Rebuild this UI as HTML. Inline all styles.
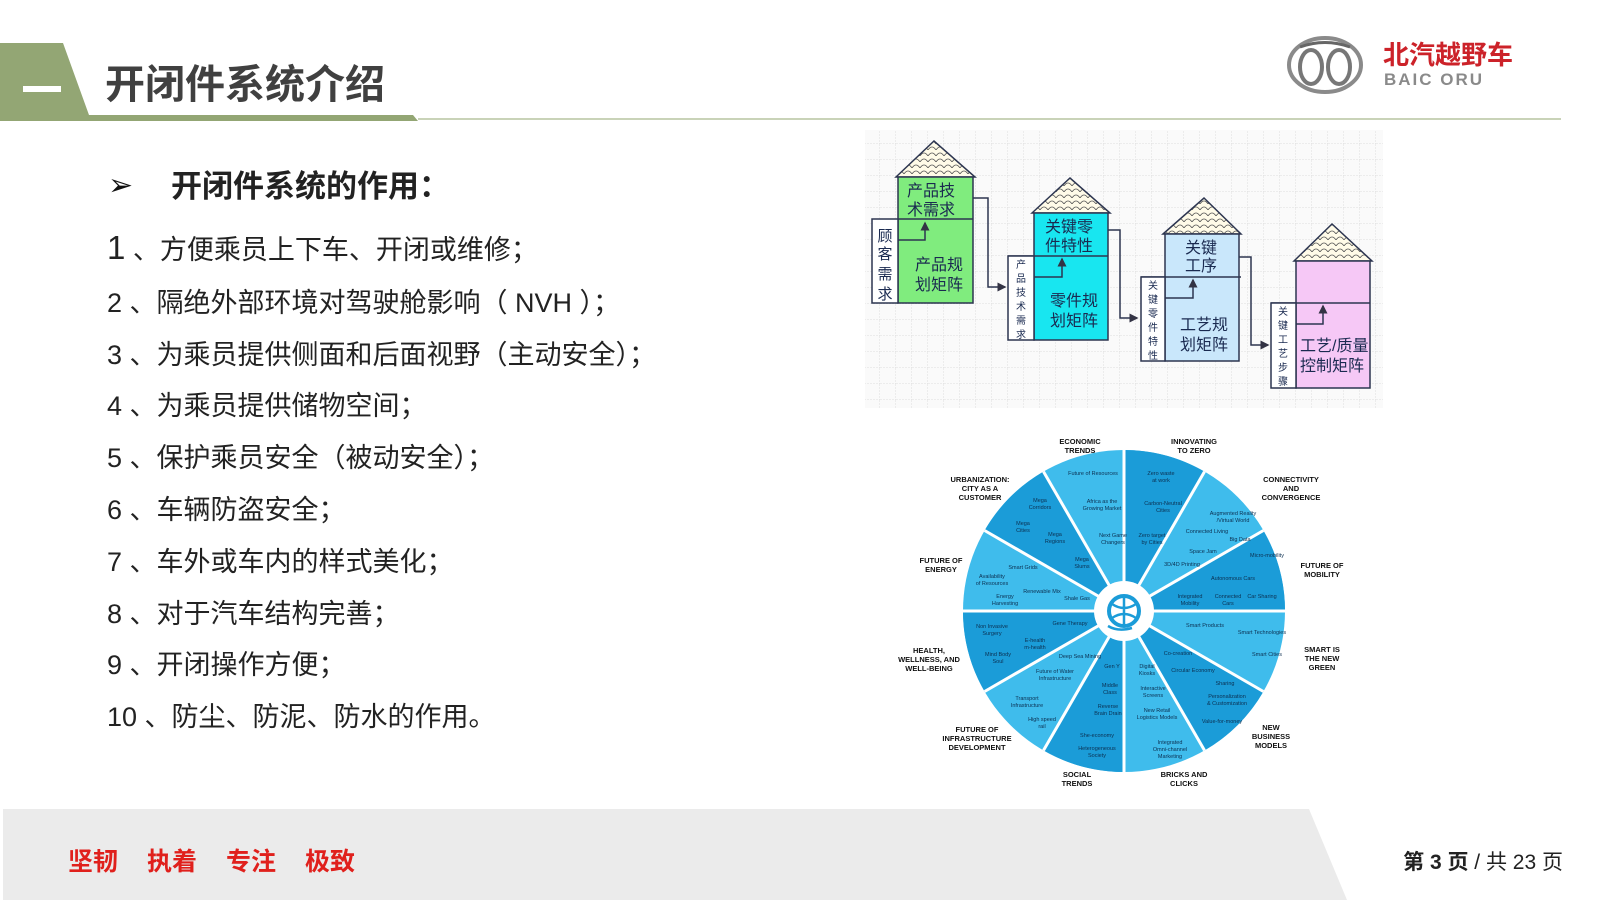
<!DOCTYPE html>
<html><head><meta charset="utf-8">
<style>
html,body{margin:0;padding:0;}
body{width:1600px;height:900px;position:relative;overflow:hidden;background:#fff;font-family:"Liberation Sans","Noto Sans CJK SC",sans-serif;}
.abs{position:absolute;white-space:nowrap;}
.li{position:absolute;left:107px;font-size:27px;color:#222;line-height:30px;font-family:"Liberation Sans","Noto Sans CJK SC",sans-serif;}
.fw{display:inline-block;margin-right:29px;}
</style></head><body>
<svg class="abs" style="left:0;top:0" width="1600" height="900">
  <polygon points="0,43 63,43 89,115 413,115 418,121 0,121" fill="#93a674"/>
  <rect x="418" y="118" width="1143" height="2" fill="#c9d3b8"/>
  <rect x="23" y="86" width="38" height="6" fill="#fff"/>
  <ellipse cx="1325" cy="65" rx="36" ry="27" fill="none" stroke="#8a8a8a" stroke-width="4"/>
  <ellipse cx="1311" cy="67" rx="11" ry="17" fill="none" stroke="#777" stroke-width="4"/>
  <ellipse cx="1339" cy="67" rx="11" ry="17" fill="none" stroke="#777" stroke-width="4"/>
  <path d="M1300,47 Q1325,38 1350,47" fill="none" stroke="#666" stroke-width="3"/>
  <rect x="3" y="809" width="1597" height="91" fill="#ebebeb"/>
  <polygon points="1309,809 1600,809 1600,900 1347,900" fill="#fff"/>
</svg>
<div class="abs" style="left:105px;top:60px;font-size:40px;font-weight:bold;color:#404040;line-height:50px;">开闭件系统介绍</div>
<div class="abs" style="left:1383px;top:40px;font-size:26px;font-weight:bold;color:#cc2229;line-height:30px;">北汽越野车</div>
<div class="abs" style="left:1384px;top:70px;font-size:17px;font-weight:bold;color:#8a8a8a;line-height:20px;letter-spacing:2px;">BAIC ORU</div>

<div class="abs" style="left:108px;top:168px;font-size:30px;color:#111;">➢</div>
<div class="abs" style="left:171px;top:168px;font-size:31px;font-weight:bold;color:#222;line-height:38px;">开闭件系统的作用：</div>
<div class="li" style="top:233px;"><span style="font-size:33px">1</span> 、方便乘员上下车、开闭或维修；</div>
<div class="li" style="top:288px;">2 、隔绝外部环境对驾驶舱影响（ NVH ）；</div>
<div class="li" style="top:340px;">3 、为乘员提供侧面和后面视野（主动安全）；</div>
<div class="li" style="top:391px;">4 、为乘员提供储物空间；</div>
<div class="li" style="top:443px;">5 、保护乘员安全（被动安全）；</div>
<div class="li" style="top:495px;">6 、车辆防盗安全；</div>
<div class="li" style="top:547px;">7 、车外或车内的样式美化；</div>
<div class="li" style="top:599px;">8 、对于汽车结构完善；</div>
<div class="li" style="top:650px;">9 、开闭操作方便；</div>
<div class="li" style="top:702px;">10 、防尘、防泥、防水的作用。</div>

<div class="abs" style="left:68px;top:846px;font-size:25px;font-weight:bold;color:#e0201c;line-height:32px;"><span class="fw">坚韧</span><span class="fw">执着</span><span class="fw">专注</span><span>极致</span></div>
<div class="abs" style="right:37px;top:849px;font-size:21px;color:#222;line-height:28px;"><b>第 3 页</b> / 共 23 页</div>

<svg class="abs" style="left:0;top:0" width="1600" height="900" font-family="Liberation Sans,Noto Sans CJK SC,sans-serif">
  <defs>
    <pattern id="g" width="16" height="16" patternUnits="userSpaceOnUse">
      <path d="M16,0 V16 M0,16 H16" stroke="#dedede" stroke-width="1" stroke-dasharray="2,1" fill="none"/>
    </pattern>
    <pattern id="sc" width="8" height="6" patternUnits="userSpaceOnUse">
      <rect width="8" height="6" fill="#fffbe8"/>
      <path d="M0,6 Q4,0 8,6" fill="none" stroke="#555" stroke-width="0.8"/>
    </pattern>
    <marker id="ah" markerWidth="6" markerHeight="6" refX="5" refY="3" orient="auto"><path d="M0,0 L6,3 L0,6z" fill="#334"/></marker>
  </defs>
  <rect x="865" y="130" width="518" height="278" fill="#fafafa"/>
  <rect x="865" y="130" width="518" height="278" fill="url(#g)"/>
  <g stroke="#2c3550" stroke-width="1.5">
    <polygon points="896,177 934,141 975,177" fill="url(#sc)"/>
    <rect x="898" y="177" width="75" height="126" fill="#80ec7e"/>
    <line x1="898" y1="219" x2="973" y2="219"/>
    <rect x="872" y="219" width="26" height="84" fill="#fff"/>
    <polyline points="898,240 925,240 925,223" fill="none" marker-end="url(#ah)"/>
    <polyline points="973,198 988,198 988,287 1005,287" fill="none" marker-end="url(#ah)"/>
    <polygon points="1032,213 1070,178 1110,213" fill="url(#sc)"/>
    <rect x="1034" y="213" width="74" height="127" fill="#18e6f0"/>
    <line x1="1008" y1="256" x2="1108" y2="256"/>
    <rect x="1008" y="256" width="26" height="84" fill="#fff"/>
    <polyline points="1034,277 1062,277 1062,259" fill="none" marker-end="url(#ah)"/>
    <polyline points="1108,230 1120,230 1120,318 1137,318" fill="none" marker-end="url(#ah)"/>
    <polygon points="1163,234 1204,198 1241,234" fill="url(#sc)"/>
    <rect x="1165" y="234" width="74" height="127" fill="#c9e7fb"/>
    <line x1="1141" y1="277" x2="1241" y2="277"/>
    <rect x="1141" y="277" width="24" height="84" fill="#fff"/>
    <polyline points="1165,298 1193,298 1193,280" fill="none" marker-end="url(#ah)"/>
    <polyline points="1239,257 1251,257 1251,345 1268,345" fill="none" marker-end="url(#ah)"/>
    <polygon points="1294,261 1332,224 1372,261" fill="url(#sc)"/>
    <rect x="1296" y="261" width="74" height="127" fill="#f6c8f6"/>
    <line x1="1271" y1="303" x2="1370" y2="303"/>
    <rect x="1271" y="303" width="25" height="85" fill="#fff"/>
    <polyline points="1296,324 1323,324 1323,306" fill="none" marker-end="url(#ah)"/>
  </g>
  <g font-size="16" fill="#1a2a50">
    <text x="907" y="196">产品技</text><text x="907" y="215">术需求</text>
    <text x="915" y="270">产品规</text><text x="915" y="290">划矩阵</text>
    <text x="1045" y="232">关键零</text><text x="1045" y="251">件特性</text>
    <text x="1050" y="306">零件规</text><text x="1050" y="326">划矩阵</text>
    <text x="1185" y="253">关键</text><text x="1185" y="271">工序</text>
    <text x="1180" y="330">工艺规</text><text x="1180" y="350">划矩阵</text>
    <text x="1300" y="351">工艺/质量</text><text x="1300" y="371">控制矩阵</text>
  </g>
  <g font-size="15" fill="#1a2a50" text-anchor="middle">
    <text x="885" y="241">顾</text><text x="885" y="259">客</text><text x="885" y="279">需</text><text x="885" y="299">求</text>
  </g>
  <g font-size="10" fill="#1a2a50" text-anchor="middle">
    <text x="1021" y="268">产</text><text x="1021" y="282">品</text><text x="1021" y="296">技</text><text x="1021" y="310">术</text><text x="1021" y="324">需</text><text x="1021" y="338">求</text>
    <text x="1153" y="289">关</text><text x="1153" y="303">键</text><text x="1153" y="317">零</text><text x="1153" y="331">件</text><text x="1153" y="345">特</text><text x="1153" y="359">性</text>
    <text x="1283" y="315">关</text><text x="1283" y="329">键</text><text x="1283" y="343">工</text><text x="1283" y="357">艺</text><text x="1283" y="371">步</text><text x="1283" y="385">骤</text>
  </g>
</svg>

<svg class="abs" style="left:0;top:0" width="1600" height="900" font-family="Liberation Sans,DejaVu Sans,sans-serif">
  <circle cx="1124" cy="611" r="161" fill="#3fbcec"/>
  <g fill="#1b9cd8">
    <path d="M1124,611 L1124,450 A161,161 0 0 1 1204.5,471.6Z"/>
    <path d="M1124,611 L1263.4,530.5 A161,161 0 0 1 1285,611Z"/>
    <path d="M1124,611 L1263.4,691.5 A161,161 0 0 1 1204.5,750.4Z"/>
    <path d="M1124,611 L1124,772 A161,161 0 0 1 1043.5,750.4Z"/>
    <path d="M1124,611 L984.6,691.5 A161,161 0 0 1 963,611Z"/>
    <path d="M1124,611 L984.6,530.5 A161,161 0 0 1 1043.5,471.6Z"/>
  </g>
  <g stroke="#fff" stroke-width="3">
    <line x1="1124" y1="611" x2="1124" y2="450"/><line x1="1124" y1="611" x2="1204.5" y2="471.6"/>
    <line x1="1124" y1="611" x2="1263.4" y2="530.5"/><line x1="1124" y1="611" x2="1285" y2="611"/>
    <line x1="1124" y1="611" x2="1263.4" y2="691.5"/><line x1="1124" y1="611" x2="1204.5" y2="750.4"/>
    <line x1="1124" y1="611" x2="1124" y2="772"/><line x1="1124" y1="611" x2="1043.5" y2="750.4"/>
    <line x1="1124" y1="611" x2="984.6" y2="691.5"/><line x1="1124" y1="611" x2="963" y2="611"/>
    <line x1="1124" y1="611" x2="984.6" y2="530.5"/><line x1="1124" y1="611" x2="1043.5" y2="471.6"/>
  </g>
  <circle cx="1124" cy="611" r="30" fill="#fff"/>
  <circle cx="1124" cy="611" r="15" fill="none" stroke="#1b9cd8" stroke-width="4"/>
  <path d="M1112,604 Q1124,612 1136,604 M1112,618 Q1124,610 1136,618 M1124,596 V626 M1108,626 Q1118,632 1132,628" fill="none" stroke="#1b9cd8" stroke-width="2.5"/>
  <g font-size="5.5" fill="#0c2f50" text-anchor="middle">
    <text x="1093" y="475">Future of Resources</text><text x="1102" y="503">Africa as the</text><text x="1102" y="510">Growing Market</text><text x="1113" y="537">Next Game</text><text x="1113" y="544">Changers</text>
    <text x="1161" y="475">Zero waste</text><text x="1161" y="482">at work</text><text x="1163" y="505">Carbon-Neutral</text><text x="1163" y="512">Cities</text><text x="1152" y="537">Zero target</text><text x="1152" y="544">by Cities</text>
    <text x="1233" y="515">Augmented Reality</text><text x="1233" y="522">/Virtual World</text><text x="1207" y="533">Connected Living</text><text x="1240" y="541">Big Data</text><text x="1203" y="553">Space Jam</text><text x="1182" y="566">3D/4D Printing</text>
    <text x="1267" y="557">Micro-mobility</text><text x="1233" y="580">Autonomous Cars</text><text x="1190" y="598">Integrated</text><text x="1190" y="605">Mobility</text><text x="1228" y="598">Connected</text><text x="1228" y="605">Cars</text><text x="1262" y="598">Car Sharing</text>
    <text x="1205" y="627">Smart Products</text><text x="1262" y="634">Smart Technologies</text><text x="1267" y="656">Smart Cities</text>
    <text x="1178" y="655">Co-creation</text><text x="1193" y="672">Circular Economy</text><text x="1225" y="685">Sharing</text><text x="1227" y="698">Personalization</text><text x="1227" y="705">&amp; Customization</text><text x="1222" y="723">Value-for-money</text>
    <text x="1147" y="668">Digital</text><text x="1147" y="675">Kiosks</text><text x="1153" y="690">Interactive</text><text x="1153" y="697">Screens</text><text x="1157" y="712">New Retail</text><text x="1157" y="719">Logistics Models</text><text x="1170" y="744">Integrated</text><text x="1170" y="751">Omni-channel</text><text x="1170" y="758">Marketing</text>
    <text x="1112" y="668">Gen Y</text><text x="1110" y="687">Middle</text><text x="1110" y="694">Class</text><text x="1108" y="708">Reverse</text><text x="1108" y="715">Brain Drain</text><text x="1097" y="737">She-economy</text><text x="1097" y="750">Heterogeneous</text><text x="1097" y="757">Society</text>
    <text x="1080" y="658">Deep Sea Mining</text><text x="1055" y="673">Future of Water</text><text x="1055" y="680">Infrastructure</text><text x="1027" y="700">Transport</text><text x="1027" y="707">Infrastructure</text><text x="1042" y="721">High speed</text><text x="1042" y="728">rail</text>
    <text x="1070" y="625">Gene Therapy</text><text x="992" y="628">Non Invasive</text><text x="992" y="635">Surgery</text><text x="1035" y="642">E-health</text><text x="1035" y="649">m-health</text><text x="998" y="656">Mind Body</text><text x="998" y="663">Soul</text>
    <text x="992" y="578">Availability</text><text x="992" y="585">of Resources</text><text x="1023" y="569">Smart Grids</text><text x="1005" y="598">Energy</text><text x="1005" y="605">Harvesting</text><text x="1042" y="593">Renewable Mix</text><text x="1077" y="600">Shale Gas</text>
    <text x="1040" y="502">Mega</text><text x="1040" y="509">Corridors</text><text x="1023" y="525">Mega</text><text x="1023" y="532">Cities</text><text x="1055" y="536">Mega</text><text x="1055" y="543">Regions</text><text x="1082" y="561">Mega</text><text x="1082" y="568">Slums</text>
  </g>
  <g font-size="7.5" font-weight="bold" fill="#111" text-anchor="middle">
    <text x="1080" y="444">ECONOMIC</text><text x="1080" y="453">TRENDS</text>
    <text x="1194" y="444">INNOVATING</text><text x="1194" y="453">TO ZERO</text>
    <text x="1291" y="482">CONNECTIVITY</text><text x="1291" y="491">AND</text><text x="1291" y="500">CONVERGENCE</text>
    <text x="1322" y="568">FUTURE OF</text><text x="1322" y="577">MOBILITY</text>
    <text x="1322" y="652">SMART IS</text><text x="1322" y="661">THE NEW</text><text x="1322" y="670">GREEN</text>
    <text x="1271" y="730">NEW</text><text x="1271" y="739">BUSINESS</text><text x="1271" y="748">MODELS</text>
    <text x="1184" y="777">BRICKS AND</text><text x="1184" y="786">CLICKS</text>
    <text x="1077" y="777">SOCIAL</text><text x="1077" y="786">TRENDS</text>
    <text x="977" y="732">FUTURE OF</text><text x="977" y="741">INFRASTRUCTURE</text><text x="977" y="750">DEVELOPMENT</text>
    <text x="929" y="653">HEALTH,</text><text x="929" y="662">WELLNESS, AND</text><text x="929" y="671">WELL-BEING</text>
    <text x="941" y="563">FUTURE OF</text><text x="941" y="572">ENERGY</text>
    <text x="980" y="482">URBANIZATION:</text><text x="980" y="491">CITY AS A</text><text x="980" y="500">CUSTOMER</text>
  </g>
</svg>
</body></html>
